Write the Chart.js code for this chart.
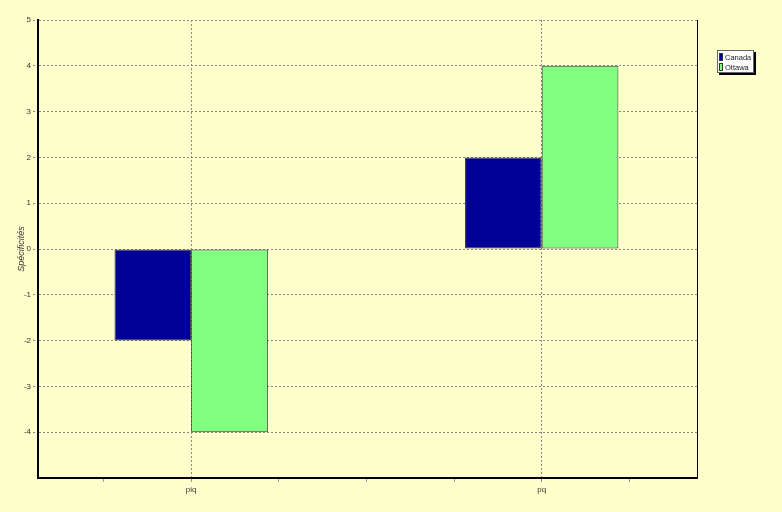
<!DOCTYPE html>
<html>
<head>
<meta charset="utf-8">
<script src="https://cdn.jsdelivr.net/npm/chart.js@4"></script>
<style>
  html, body { margin: 0; padding: 0; background: #ffffcc; }
  #wrap { width: 782px; height: 512px; }
</style>
</head>
<body>
<div id="wrap"><canvas id="chart" width="782" height="512"></canvas></div>
<script>
const categories = ['piq', 'pq'];
const canada = [-2, 2];
const ottawa = [-4, 4];
const yTicks = [5, 4, 3, 2, 1, 0, -1, -2, -3, -4];

const toPoints = vals => vals.map((v, i) => ({ x: i + 1, y: v }));

// right border of the plot and the boxed legend
const frame = {
    id: 'frame',
    afterDraw(chart) {
        const { ctx, chartArea: a } = chart;
        ctx.save();
        ctx.strokeStyle = '#000';
        ctx.lineWidth = 1;
        ctx.beginPath();
        ctx.moveTo(a.right + 0.5, a.top);
        ctx.lineTo(a.right + 0.5, a.bottom);
        ctx.stroke();

        const bx = 717, by = 50, bw = 37, bh = 23;
        ctx.fillStyle = '#000';
        ctx.fillRect(bx + 2, by + 2, bw, bh);
        ctx.fillStyle = '#fff';
        ctx.fillRect(bx, by, bw, bh);
        ctx.strokeStyle = '#666';
        ctx.strokeRect(bx + 0.5, by + 0.5, bw - 1, bh - 1);
        ctx.font = '7.5px "Liberation Sans", Arial, sans-serif';
        ctx.textBaseline = 'middle';
        chart.data.datasets.forEach((ds, i) => {
            const y = by + 3 + i * 10;
            ctx.fillStyle = ds.backgroundColor;
            ctx.fillRect(bx + 2, y, 4, 8);
            ctx.strokeStyle = '#333';
            ctx.strokeRect(bx + 2.5, y + 0.5, 3, 7);
            ctx.fillStyle = '#222';
            ctx.fillText(ds.label, bx + 8, y + 4.5);
        });
        ctx.restore();
    }
};

new Chart(document.getElementById('chart'), {
    type: 'bar',
    data: {
        datasets: [
            { label: 'Canada', data: toPoints(canada), backgroundColor: '#000099', borderColor: '#333', borderWidth: 1, borderSkipped: false },
            { label: 'Ottawa', data: toPoints(ottawa), backgroundColor: '#80ff80', borderColor: '#333', borderWidth: 1, borderSkipped: false }
        ]
    },
    options: {
        responsive: false,
        animation: false,
        layout: { padding: { top: 20, right: 85, left: 0, bottom: 0 } },
        categoryPercentage: 1.75,
        barPercentage: 1,
        plugins: { legend: { display: false }, tooltip: { enabled: false } },
        scales: {
            x: {
                type: 'linear',
                offset: false,
                min: 0.563,
                max: 2.443,
                afterBuildTicks: s => { s.ticks = [0.75, 1, 1.25, 1.5, 1.75, 2, 2.25].map(v => ({ value: v })); },
                afterFit: s => { s.height = 34; },
                border: { display: true, color: '#000', width: 2, dash: [2, 2] },
                grid: {
                    offset: false,
                    color: c => Number.isInteger(c.tick && c.tick.value) ? '#888' : 'rgba(0,0,0,0)',
                    tickColor: '#999',
                    tickLength: 4,
                    lineWidth: 1
                },
                ticks: {
                    autoSkip: false,
                    maxRotation: 0,
                    padding: 3,
                    color: '#333',
                    font: { size: 8, family: '"Liberation Sans", Arial, sans-serif' },
                    callback: v => Number.isInteger(v) ? categories[v - 1] : ''
                }
            },
            y: {
                min: -5,
                max: 5,
                afterBuildTicks: s => { s.ticks = [-5].concat(yTicks.slice().reverse()).map(v => ({ value: v })); },
                afterFit: s => { s.width = 38; },
                border: { display: true, color: '#000', width: 2, dash: [2, 2] },
                grid: {
                    color: c => (c.tick && c.tick.value === -5) ? 'rgba(0,0,0,0)' : '#888',
                    tickBorderDash: [2, 2],
                    tickLength: 5,
                    lineWidth: 1
                },
                ticks: {
                    padding: 2,
                    color: '#333',
                    font: { size: 8, family: '"Liberation Sans", Arial, sans-serif' },
                    callback: v => yTicks.includes(v) ? String(v) : ''
                },
                title: {
                    display: true,
                    text: 'Spécificités',
                    color: '#333',
                    padding: { top: 16, bottom: 0 },
                    font: { size: 9, style: 'italic', family: '"Liberation Sans", Arial, sans-serif' }
                }
            }
        }
    },
    plugins: [frame]
});
</script>
</body>
</html>
